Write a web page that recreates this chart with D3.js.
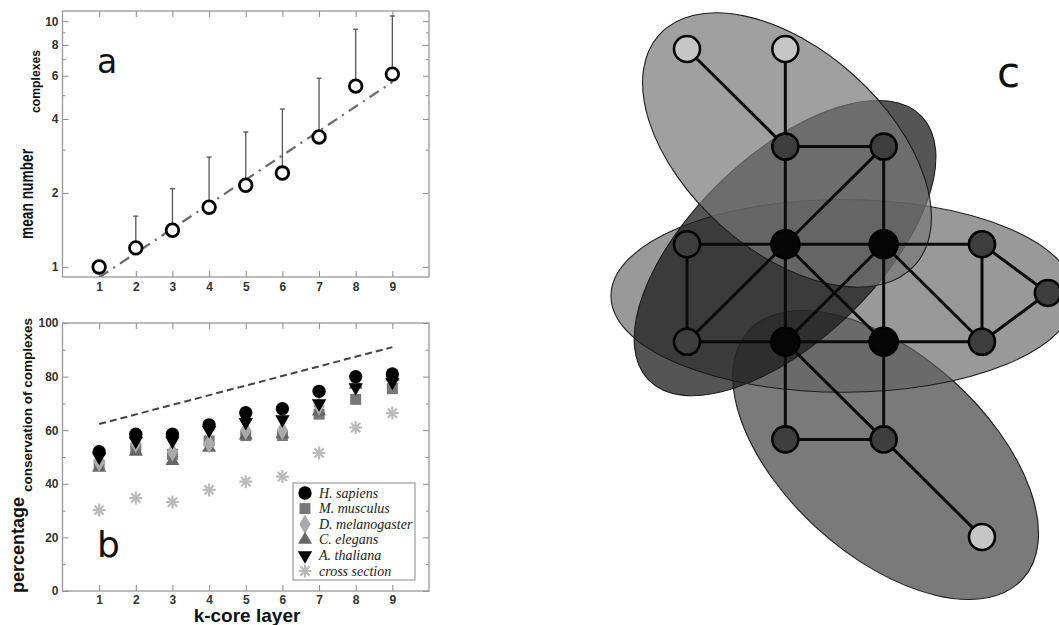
<!DOCTYPE html>
<html>
<head>
<meta charset="utf-8">
<script src="https://cdnjs.cloudflare.com/ajax/libs/d3/7.8.5/d3.min.js"></script>
<style>
  body { margin: 0; background: #fff; }
  svg { display: block; }
  .tick text { font-family: "Liberation Sans", Arial, sans-serif; font-weight: bold; font-size: 12px; fill: #333; }
  .tick line { stroke: #8a8a8a; stroke-width: 1; }
</style>
</head>
<body>
<svg id="fig" width="1059" height="625"></svg>
<script>
// ---- panel a: mean number of complexes per k-core layer
const kLayers = [1, 2, 3, 4, 5, 6, 7, 8, 9];
const meanComplexes = [1.0, 1.195, 1.41, 1.75, 2.15, 2.41, 3.38, 5.44, 6.09];
const meanUpper = [1.0, 1.61, 2.08, 2.80, 3.54, 4.39, 5.86, 9.27, 10.5];
const fitK = [1, 9];
const fitMean = [0.906, 5.65];
const aTicksMajor = [1, 2, 4, 6, 8, 10];
const aTicksMinor = [3, 5, 7, 9];

// ---- panel b: percentage conservation of complexes
const speciesNames = ["H. sapiens", "M. musculus", "D. melanogaster", "C. elegans", "A. thaliana", "cross section"];
const hSapiens = [52, 58.5, 58.5, 62, 66.5, 68, 74.5, 80, 81];
const mMusculus = [47, 53, 51, 56, 58, 58, 66, 71.5, 75.5];
const dMelanogaster = [48, 55, 52, 55, 60, 60, 69, 77, 79];
const cElegans = [46, 52, 48.5, 53.5, 58, 58.5, 67, 77, 80];
const aThaliana = [50, 56, 56, 60, 63, 64, 70, 76, 78];
const crossSection = [30.2, 34.7, 33.2, 37.7, 40.8, 42.7, 51.5, 61, 66.4];
const boundK = [1, 9];
const boundPct = [62.3, 91];
const bTicksMajor = [0, 20, 40, 60, 80, 100];
const bTicksMinor = [10, 30, 50, 70, 90];

// ---- panel c: network grid positions (column, row) and complexes
const netNodes = [
  { id: "p1", col: 0, row: 0, kind: "outer" },
  { id: "p2", col: 1, row: 0, kind: "outer" },
  { id: "m1", col: 1, row: 1, kind: "mid" },
  { id: "m2", col: 2, row: 1, kind: "mid" },
  { id: "m3", col: 0, row: 2, kind: "mid" },
  { id: "c1", col: 1, row: 2, kind: "core" },
  { id: "c2", col: 2, row: 2, kind: "core" },
  { id: "m4", col: 3, row: 2, kind: "mid" },
  { id: "m5", col: 3.67, row: 2.5, kind: "mid" },
  { id: "m6", col: 0, row: 3, kind: "mid" },
  { id: "c3", col: 1, row: 3, kind: "core" },
  { id: "c4", col: 2, row: 3, kind: "core" },
  { id: "m7", col: 3, row: 3, kind: "mid" },
  { id: "m8", col: 1, row: 4, kind: "mid" },
  { id: "m9", col: 2, row: 4, kind: "mid" },
  { id: "p3", col: 3, row: 5, kind: "outer" }
];
const netEdges = [
  ["p1", "m1"], ["p2", "m1"], ["m1", "m2"], ["m1", "c1"], ["m2", "c2"], ["m2", "c1"],
  ["c1", "m6"], ["m3", "c1"], ["c1", "c2"], ["c2", "m4"], ["m3", "m6"], ["c1", "c3"],
  ["c2", "c4"], ["c1", "c4"], ["c2", "c3"], ["c2", "m7"], ["m4", "m7"], ["m4", "m5"],
  ["m7", "m5"], ["m6", "c3"], ["c3", "c4"], ["c4", "m7"], ["c3", "m8"], ["c4", "m9"],
  ["m8", "m9"], ["c3", "m9"], ["m9", "p3"]
];
// complexes drawn as ellipses: centre (col,row), semi axes in grid units, rotation in degrees
const complexNames = ["bottom", "horizontal", "diagonalUp", "top"];
const complexCx = [2.02, 1.587, 0.997, 1.017];
const complexCy = [4.16, 2.53, 2.04, 1.035];
const complexA = [1.88, 2.36, 1.93, 1.75];
const complexB = [1.02, 0.98, 0.94, 1.02];
const complexAngle = [42, 0, -44, 42];

// styles kept apart from the data
const complexStyle = {
  bottom: { fill: "#414141", opacity: 0.7 },
  horizontal: { fill: "#616161", opacity: 0.647 },
  diagonalUp: { fill: "#1a1a1a", opacity: 0.74 },
  top: { fill: "#777777", opacity: 0.7 }
};
const nodeStyle = {
  outer: { fill: "#c6c6c6", r: 13 },
  mid: { fill: "#3e3e3e", r: 13 },
  core: { fill: "#050505", r: 14 }
};

let svg = d3.select("#fig");

// an eight-armed asterisk for the cross section marker
const symbolStar = {
  draw(context, size) {
    let r = Math.sqrt(size) / 2;
    for (let i = 0; i < 4; i++) {
      let a = i * Math.PI / 4;
      context.moveTo(r * Math.cos(a), r * Math.sin(a));
      context.lineTo(-r * Math.cos(a), -r * Math.sin(a));
    }
  }
};

function drawFrame(container, cfg, xScale, yScale, yMajor, yMinor) {
  let { left, right, top, bottom } = cfg;

  let axisB = d3.axisBottom(xScale).tickValues(kLayers).tickSizeInner(-6).tickSizeOuter(0).tickPadding(cfg.xPad);
  container.append("g").attr("transform", `translate(0,${bottom})`).call(axisB).call(g => g.select(".domain").remove());

  let axisT = d3.axisTop(xScale).tickValues(kLayers).tickSizeInner(-6).tickSizeOuter(0).tickFormat("");
  container.append("g").attr("transform", `translate(0,${top})`).call(axisT).call(g => g.select(".domain").remove());

  let axisL = d3.axisLeft(yScale).tickValues(yMajor).tickSizeInner(-6).tickSizeOuter(0).tickPadding(4).tickFormat(d3.format("d"));
  container.append("g").attr("transform", `translate(${left},0)`).call(axisL).call(g => g.select(".domain").remove());
  let axisLm = d3.axisLeft(yScale).tickValues(yMinor).tickSizeInner(-3).tickSizeOuter(0).tickFormat("");
  container.append("g").attr("transform", `translate(${left},0)`).call(axisLm).call(g => g.select(".domain").remove());

  let axisR = d3.axisRight(yScale).tickValues(yMajor).tickSizeInner(-6).tickSizeOuter(0).tickFormat("");
  container.append("g").attr("transform", `translate(${right},0)`).call(axisR).call(g => g.select(".domain").remove());
  let axisRm = d3.axisRight(yScale).tickValues(yMinor).tickSizeInner(-3).tickSizeOuter(0).tickFormat("");
  container.append("g").attr("transform", `translate(${right},0)`).call(axisRm).call(g => g.select(".domain").remove());

  container.append("rect")
    .attr("x", left).attr("y", top)
    .attr("width", right - left).attr("height", bottom - top)
    .attr("fill", "none").attr("stroke", "#999").attr("stroke-width", 1.3);
}

function rotatedLabel(container, x, y, text, size, length) {
  container.append("text")
    .attr("transform", `translate(${x},${y}) rotate(-90)`)
    .attr("font-family", "Liberation Sans, Arial, sans-serif")
    .attr("font-weight", "bold")
    .attr("font-size", size)
    .attr("textLength", length)
    .attr("lengthAdjust", "spacingAndGlyphs")
    .attr("fill", "#111")
    .text(text);
}

function drawPanelA() {
  let cfg = { left: 62.5, right: 429, top: 11, bottom: 277, xPad: 5 };
  let xScale = d3.scaleLinear().domain([0, 10]).range([cfg.left, cfg.right]);
  let yScale = d3.scaleLog().domain([0.91, 11]).range([cfg.bottom, cfg.top]);
  let g = svg.append("g");

  drawFrame(g, cfg, xScale, yScale, aTicksMajor, aTicksMinor);

  g.append("clipPath").attr("id", "clipA").append("rect")
    .attr("x", cfg.left).attr("y", cfg.top)
    .attr("width", cfg.right - cfg.left).attr("height", cfg.bottom - cfg.top);

  // fitted trend (dash-dot)
  let fit = fitK.map((k, i) => [k, fitMean[i]]);
  g.append("path")
    .attr("clip-path", "url(#clipA)")
    .attr("d", d3.line().x(d => xScale(d[0])).y(d => yScale(d[1]))(fit))
    .attr("fill", "none").attr("stroke", "#6a6a6a").attr("stroke-width", 2.2)
    .attr("stroke-dasharray", "11,6,2,6");

  // upper error bars
  let pts = kLayers.map((k, i) => ({ k: k, v: meanComplexes[i], up: meanUpper[i] }));
  let bars = g.append("g").attr("stroke", "#555").attr("stroke-width", 1.3);
  bars.selectAll(".eb").data(pts.filter(d => d.up > d.v)).enter().append("line")
    .attr("x1", d => xScale(d.k)).attr("x2", d => xScale(d.k))
    .attr("y1", d => yScale(d.v)).attr("y2", d => yScale(d.up));
  bars.selectAll(".cap").data(pts.filter(d => d.up > d.v)).enter().append("line")
    .attr("x1", d => xScale(d.k) - 2.5).attr("x2", d => xScale(d.k) + 2.5)
    .attr("y1", d => yScale(d.up)).attr("y2", d => yScale(d.up));

  g.selectAll(".pt").data(pts).enter().append("circle")
    .attr("cx", d => xScale(d.k)).attr("cy", d => yScale(d.v)).attr("r", 6.3)
    .attr("fill", "#fff").attr("stroke", "#000").attr("stroke-width", 2.8);

  rotatedLabel(g, 33, 239, "mean number", 18, 90);
  rotatedLabel(g, 39.5, 113, "complexes", 12, 63);

  g.append("text").attr("x", 97).attr("y", 73)
    .attr("font-family", "DejaVu Sans, sans-serif").attr("font-size", 33).attr("fill", "#111").text("a");
}

function drawPanelB() {
  let cfg = { left: 62.5, right: 429, top: 323, bottom: 591, xPad: 4 };
  let xScale = d3.scaleLinear().domain([0, 10]).range([cfg.left, cfg.right]);
  let yScale = d3.scaleLinear().domain([0, 100]).range([cfg.bottom, cfg.top]);
  let g = svg.append("g");

  drawFrame(g, cfg, xScale, yScale, bTicksMajor, bTicksMinor);

  // upper bound dashed line
  let bound = boundK.map((k, i) => [k, boundPct[i]]);
  g.append("path")
    .attr("d", d3.line().x(d => xScale(d[0])).y(d => yScale(d[1]))(bound))
    .attr("fill", "none").attr("stroke", "#444").attr("stroke-width", 2)
    .attr("stroke-dasharray", "7,4");

  let series = [
    { name: speciesNames[0], values: hSapiens, type: d3.symbolCircle, size: 140, fill: "#000", rot: 0 },
    { name: speciesNames[1], values: mMusculus, type: d3.symbolSquare, size: 121, fill: "#777", rot: 0 },
    { name: speciesNames[2], values: dMelanogaster, type: d3.symbolDiamond, size: 110, fill: "#aaa", rot: 0 },
    { name: speciesNames[3], values: cElegans, type: d3.symbolTriangle, size: 85, fill: "#666", rot: 0 },
    { name: speciesNames[4], values: aThaliana, type: d3.symbolTriangle, size: 90, fill: "#000", rot: 180 },
    { name: speciesNames[5], values: crossSection, type: symbolStar, size: 170, fill: "none", stroke: "#bbb", rot: 0 }
  ];
  let drawOrder = [1, 3, 2, 4, 0, 5];

  drawOrder.forEach(idx => {
    let s = series[idx];
    let sym = d3.symbol().type(s.type).size(s.size);
    g.append("g").selectAll("path").data(kLayers.map((k, i) => [k, s.values[i]])).enter().append("path")
      .attr("d", sym)
      .attr("transform", d => `translate(${xScale(d[0])},${yScale(d[1])}) rotate(${s.rot})`)
      .attr("fill", s.fill)
      .attr("stroke", s.stroke || "none")
      .attr("stroke-width", s.stroke ? 2.2 : 0);
  });

  // legend
  let lg = g.append("g");
  lg.append("rect").attr("x", 293).attr("y", 483).attr("width", 122).attr("height", 97)
    .attr("fill", "#fff").attr("stroke", "#888").attr("stroke-width", 1);
  series.forEach((s, i) => {
    let y = 493 + i * 15.6;
    lg.append("path").attr("d", d3.symbol().type(s.type).size(s.size)())
      .attr("transform", `translate(305,${y}) rotate(${s.rot})`)
      .attr("fill", s.fill).attr("stroke", s.stroke || "none").attr("stroke-width", s.stroke ? 2.2 : 0);
    lg.append("text").attr("x", 319).attr("y", y + 4.5)
      .attr("font-family", "Liberation Serif, Times New Roman, serif").attr("font-style", "italic")
      .attr("font-size", 14).attr("fill", "#222").text(s.name);
  });

  rotatedLabel(g, 24, 593, "percentage", 18, 96);
  rotatedLabel(g, 32, 492, "conservation of complexes", 13, 174);

  g.append("text").attr("x", 247).attr("y", 622).attr("text-anchor", "middle")
    .attr("font-family", "Liberation Sans, Arial, sans-serif").attr("font-weight", "bold")
    .attr("font-size", 19).attr("fill", "#111").text("k-core layer");

  g.append("text").attr("x", 97).attr("y", 557)
    .attr("font-family", "DejaVu Sans, sans-serif").attr("font-size", 36).attr("fill", "#111").text("b");
}

function drawPanelC() {
  let sx = d3.scaleLinear().domain([0, 3]).range([687, 982]);
  let sy = d3.scaleLinear().domain([0, 5]).range([49, 537]);
  let unit = sx(1) - sx(0);
  let g = svg.append("g");

  // complexes as translucent ellipses, bottom layer first
  complexNames.forEach((name, i) => {
    let st = complexStyle[name];
    g.append("ellipse")
      .attr("transform", `translate(${sx(complexCx[i])},${sy(complexCy[i])}) rotate(${complexAngle[i]})`)
      .attr("rx", complexA[i] * unit).attr("ry", complexB[i] * unit)
      .attr("fill", st.fill).attr("fill-opacity", st.opacity)
      .attr("stroke", "#1e1e1e").attr("stroke-width", 1.1);
  });

  let byId = {};
  netNodes.forEach(n => byId[n.id] = n);

  g.append("g").selectAll("line").data(netEdges).enter().append("line")
    .attr("x1", d => sx(byId[d[0]].col)).attr("y1", d => sy(byId[d[0]].row))
    .attr("x2", d => sx(byId[d[1]].col)).attr("y2", d => sy(byId[d[1]].row))
    .attr("stroke", "#0a0a0a").attr("stroke-width", 3);

  g.append("g").selectAll("circle").data(netNodes).enter().append("circle")
    .attr("cx", d => sx(d.col)).attr("cy", d => sy(d.row))
    .attr("r", d => nodeStyle[d.kind].r)
    .attr("fill", d => nodeStyle[d.kind].fill)
    .attr("stroke", "#000").attr("stroke-width", 2.6);

  g.append("text").attr("x", 997).attr("y", 87)
    .attr("font-family", "DejaVu Sans, sans-serif").attr("font-size", 42).attr("fill", "#111").text("c");
}

drawPanelA();
drawPanelB();
drawPanelC();
</script>
</body>
</html>
